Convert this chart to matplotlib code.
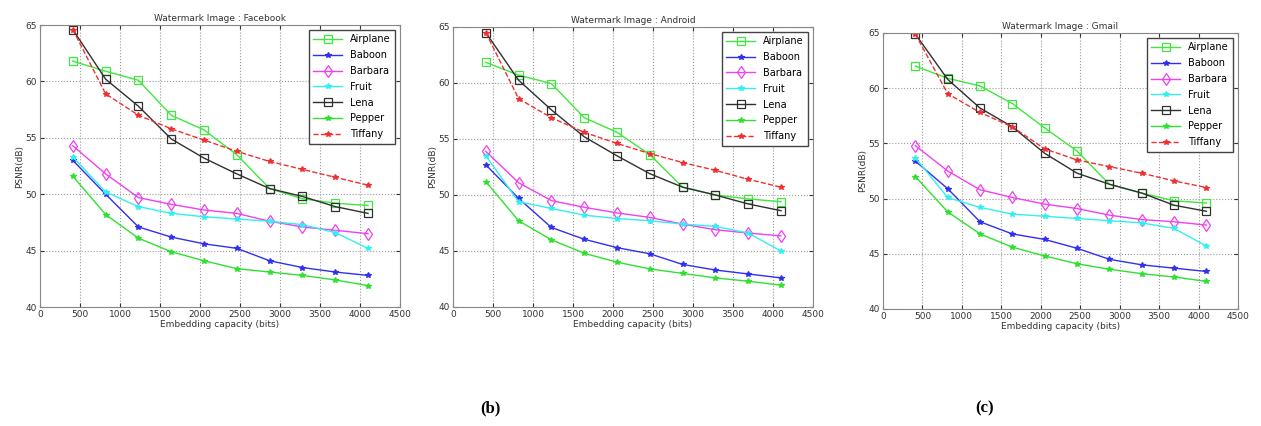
import matplotlib
matplotlib.use("Agg")
import matplotlib.pyplot as plt

capacity = [410, 820, 1230, 1640, 2050, 2460, 2870, 3280, 3690, 4100]
series_names = ["Airplane", "Baboon", "Barbara", "Fruit", "Lena", "Pepper", "Tiffany"]
titles = ["Watermark Image : Facebook", "Watermark Image : Android", "Watermark Image : Gmail"]

facebook = {
    "Airplane": [61.8, 60.9, 60.1, 57.0, 55.7, 53.5, 50.5, 49.6, 49.2, 49.0],
    "Baboon":   [53.0, 50.0, 47.1, 46.2, 45.6, 45.2, 44.1, 43.5, 43.1, 42.8],
    "Barbara":  [54.3, 51.8, 49.7, 49.1, 48.6, 48.3, 47.6, 47.1, 46.8, 46.5],
    "Fruit":    [53.3, 50.2, 48.9, 48.3, 48.0, 47.8, 47.6, 47.3, 46.6, 45.2],
    "Lena":     [64.6, 60.2, 57.8, 54.9, 53.2, 51.8, 50.5, 49.8, 48.9, 48.3],
    "Pepper":   [51.6, 48.2, 46.1, 44.9, 44.1, 43.4, 43.1, 42.8, 42.4, 41.9],
    "Tiffany":  [64.6, 58.9, 57.0, 55.8, 54.8, 53.8, 52.9, 52.2, 51.5, 50.8],
}
android = {
    "Airplane": [61.85, 60.7, 59.95, 56.9, 55.6, 53.6, 50.7, 50.0, 49.65, 49.4],
    "Baboon":   [52.7, 49.7, 47.1, 46.05, 45.3, 44.75, 43.8, 43.3, 42.95, 42.6],
    "Barbara":  [53.9, 51.1, 49.5, 48.9, 48.4, 48.0, 47.4, 46.9, 46.6, 46.35],
    "Fruit":    [53.5, 49.4, 48.8, 48.2, 47.9, 47.7, 47.4, 47.2, 46.6, 45.0],
    "Lena":     [64.5, 60.25, 57.6, 55.2, 53.5, 51.9, 50.7, 50.0, 49.2, 48.6],
    "Pepper":   [51.2, 47.7, 46.0, 44.8, 44.0, 43.4, 43.0, 42.6, 42.3, 41.95],
    "Tiffany":  [64.5, 58.6, 56.9, 55.6, 54.6, 53.7, 52.9, 52.2, 51.4, 50.7],
}
gmail = {
    "Airplane": [62.0, 60.9, 60.2, 58.6, 56.4, 54.3, 51.3, 50.5, 49.8, 49.6],
    "Baboon":   [53.4, 50.9, 47.9, 46.8, 46.3, 45.5, 44.5, 44.0, 43.7, 43.4],
    "Barbara":  [54.8, 52.5, 50.8, 50.1, 49.5, 49.1, 48.5, 48.1, 47.9, 47.6],
    "Fruit":    [53.7, 50.1, 49.2, 48.6, 48.4, 48.2, 48.0, 47.8, 47.3, 45.7],
    "Lena":     [64.9, 60.8, 58.2, 56.5, 54.1, 52.3, 51.3, 50.5, 49.4, 48.85],
    "Pepper":   [52.0, 48.8, 46.8, 45.6, 44.8, 44.1, 43.6, 43.2, 42.9, 42.5],
    "Tiffany":  [64.9, 59.5, 57.8, 56.5, 54.5, 53.5, 52.9, 52.3, 51.6, 51.0],
}
datasets = [facebook, android, gmail]

styles = {
    "Airplane": dict(color="#3ee83e", marker="s", ls="-", mfc="none", ms=5.5),
    "Baboon":   dict(color="#3030ee", marker="*", ls="-", mfc="#3030ee", ms=4),
    "Barbara":  dict(color="#f040f0", marker="d", ls="-", mfc="none", ms=6),
    "Fruit":    dict(color="#30f0f0", marker="*", ls="-", mfc="#30f0f0", ms=4),
    "Lena":     dict(color="#303030", marker="s", ls="-", mfc="none", ms=5.5),
    "Pepper":   dict(color="#30e030", marker="*", ls="-", mfc="#30e030", ms=4),
    "Tiffany":  dict(color="#f03030", marker="*", ls="--", mfc="#f03030", ms=4),
}

fig = plt.figure(figsize=(12.61, 4.26), dpi=100)
rects = [
    [40/1261, 1-307/426, 360/1261, 282/426],
    [453/1261, 1-307/426, 360/1261, 280/426],
    [883/1261, 1-309/426, 355/1261, 276/426],
]
for rect, data, title in zip(rects, datasets, titles):
    ax = fig.add_axes(rect)
    for name in series_names:
        st = styles[name]
        ax.plot(capacity, data[name], color=st["color"], marker=st["marker"],
                linestyle=st["ls"], markerfacecolor=st["mfc"], markersize=st["ms"],
                markeredgewidth=0.9, linewidth=1.0, label=name)
    ax.set_xlim(0, 4500)
    ax.set_ylim(40, 65)
    ax.set_xticks(range(0, 4501, 500))
    ax.set_yticks(range(40, 66, 5))
    ax.grid(True, linestyle=":", color="#999999", linewidth=0.8)
    ax.tick_params(direction="in", labelsize=6.5, colors="#333333", length=3,
                   top=True, right=True, pad=2)
    for sp in ax.spines.values():
        sp.set_color("#888888")
    ax.set_title(title, fontsize=6.5, color="#333333", pad=3)
    ax.set_xlabel("Embedding capacity (bits)", fontsize=6.5, color="#333333", labelpad=1)
    ax.set_ylabel("PSNR(dB)", fontsize=6.5, color="#333333", labelpad=1)
    leg = ax.legend(loc="upper right", fontsize=7, fancybox=False, framealpha=1,
                    edgecolor="#444444", borderaxespad=0.5, handlelength=3,
                    labelspacing=0.6, borderpad=0.45)
    leg.get_frame().set_linewidth(1.0)

fig.text(490/1261, 1-408/426, "(b)", fontsize=12, fontweight="bold",
         family="Liberation Serif", ha="center", va="center")
fig.text(985/1261, 1-408/426, "(c)", fontsize=12, fontweight="bold",
         family="Liberation Serif", ha="center", va="center")

fig.savefig("out.png", dpi=100, facecolor="white")
